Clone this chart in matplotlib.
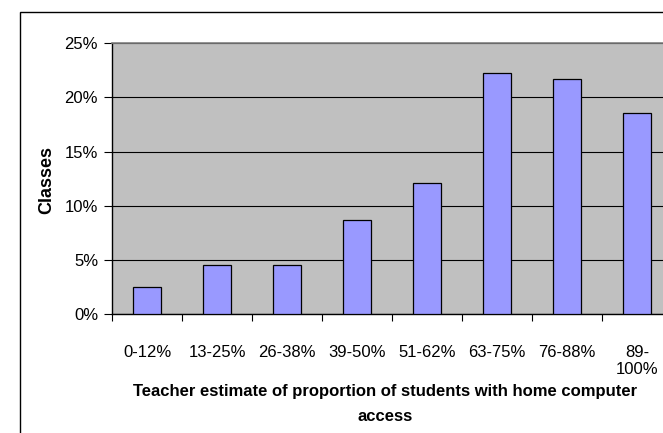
import numpy as np
import matplotlib.pyplot as plt
from matplotlib import font_manager
from matplotlib.patches import Rectangle

# data
categories = ['0-12%', '13-25%', '26-38%', '39-50%', '51-62%', '63-75%', '76-88%', '89-\n100%']
share_pct = [2.5, 4.5, 4.5, 8.7, 12.1, 22.3, 21.7, 18.6]
y_ticks = [0, 5, 10, 15, 20, 25]

# the original text looks like a slightly squeezed Arial
installed = {f.name for f in font_manager.fontManager.ttflist}
if 'Liberation Sans Narrow' in installed:
    plt.rcParams['font.family'] = ['Liberation Sans Narrow', 'DejaVu Sans']
    fs = 13.5
else:
    plt.rcParams['font.family'] = ['Liberation Sans', 'DejaVu Sans']
    fs = 12

W, H = 663, 433
fig = plt.figure(figsize=(W / 100, H / 100), dpi=100)

# outer chart border (right/bottom are cut off in the reference)
fig.patches.append(Rectangle((20 / W, -0.1), 1.2, 1 - 12 / H + 0.1,
                             transform=fig.transFigure, fill=False,
                             edgecolor='black', linewidth=1))

# plot area runs past the right edge of the picture
ax = fig.add_axes([112 / W, (H - 314) / H, 560 / W, (314 - 43.3) / H])
ax.set_facecolor('#C0C0C0')

x = np.arange(len(categories))
ax.bar(x, share_pct, width=0.4, color='#9999FF', edgecolor='black', linewidth=0.9, zorder=3)

ax.set_xlim(-0.5, len(categories) - 0.5)
ax.set_ylim(0, 25)

ax.set_yticks(y_ticks)
ax.set_yticklabels([f'{v}%' for v in y_ticks])
ax.yaxis.grid(True, color='black', linewidth=0.8, zorder=0)
ax.tick_params(axis='y', direction='out', length=6, width=0.8, labelsize=fs, pad=4)

# category boundaries get tick marks, labels sit at centres
ax.set_xticks(np.arange(-0.5, len(categories)), labels=[])
ax.set_xticks(x, labels=categories, minor=True)
ax.tick_params(axis='x', which='major', direction='out', length=5, width=0.8)
ax.tick_params(axis='x', which='minor', length=0, labelsize=fs, pad=22)

for s in ['left', 'bottom']:
    ax.spines[s].set_color('black')
    ax.spines[s].set_linewidth(1)
ax.spines['top'].set_color('#808080')
ax.spines['top'].set_linewidth(1.2)
ax.spines['right'].set_visible(False)

fig.text(385 / W, 1 - 404 / H,
         'Teacher estimate of proportion of students with home computer\naccess',
         ha='center', va='center', fontsize=fs, fontweight='bold', linespacing=1.85)
fig.text(47 / W, 1 - 180 / H, 'Classes', rotation=90, ha='center', va='center',
         fontsize=fs + 1, fontweight='bold')

fig.savefig('out.png', dpi=100)
